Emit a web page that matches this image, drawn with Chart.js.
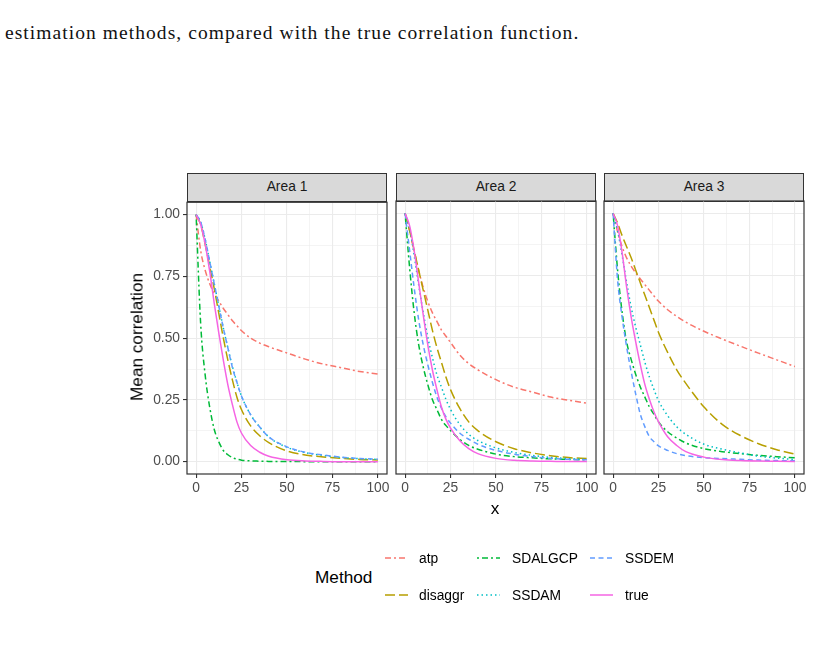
<!DOCTYPE html>
<html>
<head>
<meta charset="utf-8">
<script src="https://cdn.jsdelivr.net/npm/chart.js@4.4.1/dist/chart.umd.min.js"></script>
<style>
  body { margin:0; width:813px; height:661px; background:#fff; position:relative; overflow:hidden;
         font-family:"Liberation Sans", Arial, sans-serif; }
  .abs { position:absolute; }
  .caption { font-family:"Liberation Serif", "DejaVu Serif", serif; font-size:19.5px; line-height:22px;
             color:#111; left:5px; top:22px; white-space:nowrap; }
  .strip { background:#D9D9D9; border:1.2px solid #333; box-sizing:border-box; text-align:center;
           font-size:13.8px; color:#1A1A1A; line-height:26px; height:29px; top:173px; width:200px; }
  .axtitle { font-size:17.2px; color:#000; white-space:nowrap; transform:translate(-50%,-50%); }
  .ytitle { transform:translate(-50%,-50%) rotate(-90deg); }
  .lab { font-size:13.8px; color:#000; white-space:nowrap; transform:translateY(-50%); }
  .key { transform:translateY(-50%); line-height:0; }
</style>
</head>
<body>
<div class="abs caption" id="caption">estimation methods, compared with the true correlation function.</div>
<div id="root"></div>
<script>
// --- dados ---
const xs = [0, 2.5, 5, 7.5, 10, 12.5, 15, 17.5, 20, 22.5, 25, 30, 35, 40, 50, 60, 70, 80, 90, 100];
const methods = ['atp', 'disaggr', 'SDALGCP', 'SSDAM', 'SSDEM', 'true'];
const areas = ['Area 1', 'Area 2', 'Area 3'];
const xTicks = [0, 25, 50, 75, 100];
const yTicks = [0, 0.25, 0.5, 0.75, 1];

// Area 1
const atp1     = [1, 0.855, 0.775, 0.72, 0.68, 0.65, 0.62, 0.595, 0.57, 0.55, 0.53, 0.50, 0.48, 0.465, 0.44, 0.415, 0.395, 0.38, 0.365, 0.355];
const disaggr1 = [1, 0.96, 0.88, 0.79, 0.70, 0.60, 0.50, 0.41, 0.33, 0.26, 0.21, 0.145, 0.105, 0.077, 0.043, 0.027, 0.019, 0.013, 0.009, 0.007];
const sdalgcp1 = [1, 0.56, 0.35, 0.22, 0.13, 0.08, 0.045, 0.028, 0.016, 0.01, 0.006, 0.003, 0.002, 0.001, 0.001, 0, 0, 0, 0, 0];
const ssdam1   = [1, 0.97, 0.90, 0.81, 0.72, 0.63, 0.54, 0.46, 0.385, 0.32, 0.265, 0.19, 0.14, 0.10, 0.058, 0.037, 0.025, 0.017, 0.012, 0.009];
const ssdem1   = [1, 0.97, 0.90, 0.81, 0.72, 0.63, 0.54, 0.46, 0.38, 0.32, 0.265, 0.19, 0.14, 0.10, 0.06, 0.038, 0.027, 0.018, 0.013, 0.01];
const true1    = [1, 0.96, 0.88, 0.77, 0.64, 0.52, 0.41, 0.31, 0.23, 0.16, 0.115, 0.065, 0.038, 0.022, 0.008, 0.003, 0.001, 0, 0, 0];

// Area 2
const atp2     = [1, 0.93, 0.85, 0.77, 0.70, 0.645, 0.60, 0.565, 0.53, 0.505, 0.48, 0.43, 0.395, 0.37, 0.33, 0.30, 0.28, 0.26, 0.247, 0.235];
const disaggr2 = [1, 0.93, 0.85, 0.77, 0.69, 0.61, 0.53, 0.46, 0.40, 0.34, 0.29, 0.215, 0.16, 0.125, 0.08, 0.052, 0.035, 0.024, 0.016, 0.012];
const sdalgcp2 = [1, 0.78, 0.60, 0.47, 0.38, 0.31, 0.25, 0.21, 0.17, 0.145, 0.125, 0.09, 0.065, 0.05, 0.03, 0.02, 0.015, 0.011, 0.009, 0.007];
const ssdam2   = [1, 0.94, 0.83, 0.71, 0.60, 0.50, 0.42, 0.35, 0.30, 0.25, 0.21, 0.15, 0.11, 0.085, 0.055, 0.037, 0.025, 0.017, 0.012, 0.009];
const ssdem2   = [1, 0.85, 0.70, 0.57, 0.47, 0.39, 0.32, 0.26, 0.215, 0.18, 0.155, 0.115, 0.09, 0.07, 0.045, 0.03, 0.02, 0.013, 0.009, 0.007];
const true2    = [1, 0.95, 0.85, 0.72, 0.59, 0.47, 0.37, 0.29, 0.22, 0.17, 0.135, 0.085, 0.052, 0.032, 0.013, 0.005, 0.002, 0.001, 0, 0];

// Area 3
const atp3     = [1, 0.925, 0.865, 0.82, 0.787, 0.76, 0.736, 0.713, 0.69, 0.667, 0.646, 0.612, 0.585, 0.562, 0.525, 0.494, 0.465, 0.437, 0.41, 0.383];
const disaggr3 = [1, 0.96, 0.91, 0.865, 0.82, 0.77, 0.72, 0.67, 0.62, 0.57, 0.52, 0.44, 0.37, 0.315, 0.22, 0.15, 0.105, 0.072, 0.048, 0.03];
const sdalgcp3 = [1, 0.77, 0.60, 0.48, 0.41, 0.35, 0.30, 0.26, 0.22, 0.19, 0.16, 0.12, 0.095, 0.075, 0.052, 0.04, 0.032, 0.025, 0.02, 0.015];
const ssdam3   = [1, 0.93, 0.83, 0.72, 0.62, 0.54, 0.47, 0.40, 0.34, 0.29, 0.245, 0.185, 0.14, 0.11, 0.07, 0.05, 0.035, 0.022, 0.014, 0.008];
const ssdem3   = [1, 0.73, 0.58, 0.46, 0.36, 0.27, 0.19, 0.14, 0.10, 0.08, 0.063, 0.045, 0.032, 0.024, 0.016, 0.012, 0.009, 0.006, 0.004, 0.003];
const true3    = [1, 0.95, 0.84, 0.70, 0.58, 0.48, 0.39, 0.31, 0.25, 0.20, 0.16, 0.10, 0.065, 0.04, 0.018, 0.008, 0.004, 0.002, 0.001, 0];

const dadosAreas = [
    [atp1, disaggr1, sdalgcp1, ssdam1, ssdem1, true1],
    [atp2, disaggr2, sdalgcp2, ssdam2, ssdem2, true2],
    [atp3, disaggr3, sdalgcp3, ssdam3, ssdem3, true3]
];

// --- estilo (cores ggplot e tipos de linha) ---
const cores = ['#F8766D', '#B79F00', '#00BA38', '#00BFC4', '#619CFF', '#F564E3'];
const tracos = [[6, 3, 2, 3], [10, 4], [2, 3, 6, 3], [1.5, 3], [5, 3.5], []];
const fonte = '"Liberation Sans", Arial, sans-serif';

// --- geometria dos paineis ---
const painelEsq = [187, 396, 604];
const painelW = 200, painelH = 273, painelTopo = 201;
const eixoW = 60, eixoXH = 42, padT = 10, padR = 16;

// minor ticks = meio entre os major
function comMinor(t) {
    const out = [];
    t.forEach((v, i) => { out.push(v); if (i < t.length - 1) out.push((v + t[i + 1]) / 2); });
    return out;
}
const xTodos = comMinor(xTicks);
const yTodos = comMinor(yTicks);

const moldura = {
    id: 'moldura',
    afterDatasetsDraw(chart) {
        const { ctx, chartArea: a } = chart;
        ctx.save();
        ctx.strokeStyle = '#333333';
        ctx.lineWidth = 1.2;
        ctx.strokeRect(a.left, a.top, a.right - a.left, a.bottom - a.top);
        ctx.restore();
    }
};

function criarPainel(k) {
    const root = document.getElementById('root');

    const strip = document.createElement('div');
    strip.className = 'abs strip';
    strip.style.left = painelEsq[k] + 'px';
    strip.textContent = areas[k];
    root.appendChild(strip);

    const canvas = document.createElement('canvas');
    canvas.width = eixoW + painelW + padR;
    canvas.height = padT + painelH + eixoXH;
    canvas.className = 'abs';
    canvas.style.left = (painelEsq[k] - eixoW) + 'px';
    canvas.style.top = (painelTopo - padT) + 'px';
    root.appendChild(canvas);

    const primeiro = k === 0;

    new Chart(canvas, {
        type: 'line',
        data: {
            datasets: methods.map((m, i) => ({
                label: m,
                data: xs.map((x, j) => ({ x: x, y: dadosAreas[k][i][j] })),
                borderColor: cores[i],
                borderDash: tracos[i],
                borderWidth: 1.5,
                pointRadius: 0,
                fill: false,
                cubicInterpolationMode: 'monotone',
                order: methods.length - 1 - i
            }))
        },
        options: {
            responsive: false,
            animation: false,
            devicePixelRatio: 1,
            layout: { padding: { top: padT, right: padR, left: 0, bottom: 0 } },
            plugins: { legend: { display: false }, tooltip: { enabled: false } },
            scales: {
                x: {
                    type: 'linear', min: -5, max: 105,
                    afterBuildTicks: s => { s.ticks = xTodos.map(v => ({ value: v })); },
                    afterFit: s => { s.height = eixoXH; },
                    border: { display: false },
                    grid: {
                        color: '#EBEBEB',
                        lineWidth: c => xTicks.includes(c.tick.value) ? 1.1 : 0.55,
                        tickLength: 4,
                        tickWidth: 1.1,
                        tickColor: c => xTicks.includes(c.tick.value) ? '#333333' : 'rgba(0,0,0,0)'
                    },
                    ticks: {
                        autoSkip: false, maxRotation: 0, padding: 2, color: '#4D4D4D',
                        font: { family: fonte, size: 13.8 },
                        callback: v => xTicks.includes(v) ? String(v) : ''
                    }
                },
                y: {
                    type: 'linear', min: -0.05, max: 1.05,
                    afterBuildTicks: s => { s.ticks = yTodos.map(v => ({ value: v })); },
                    afterFit: s => { s.width = eixoW; },
                    border: { display: false },
                    grid: {
                        color: '#EBEBEB',
                        lineWidth: c => yTicks.includes(c.tick.value) ? 1.1 : 0.55,
                        drawTicks: primeiro,
                        tickLength: 4,
                        tickWidth: 1.1,
                        tickColor: c => (primeiro && yTicks.includes(c.tick.value)) ? '#333333' : 'rgba(0,0,0,0)'
                    },
                    ticks: {
                        display: primeiro, autoSkip: false, padding: 3, color: '#4D4D4D',
                        font: { family: fonte, size: 13.8 },
                        callback: v => yTicks.includes(v) ? v.toFixed(2) : ''
                    }
                }
            }
        },
        plugins: [moldura]
    });
}

function criarTextos() {
    const root = document.getElementById('root');

    const yt = document.createElement('div');
    yt.className = 'abs axtitle ytitle';
    yt.style.left = '137px'; yt.style.top = '337px';
    yt.textContent = 'Mean correlation';
    root.appendChild(yt);

    const xt = document.createElement('div');
    xt.className = 'abs axtitle';
    xt.style.left = '495px'; xt.style.top = '508px';
    xt.textContent = 'x';
    root.appendChild(xt);

    // legenda (preenchida por colunas, como no ggplot)
    const titulo = document.createElement('div');
    titulo.className = 'abs lab';
    titulo.style.fontSize = '17.2px';
    titulo.style.left = '315px'; titulo.style.top = '577px';
    titulo.textContent = 'Method';
    root.appendChild(titulo);

    const keyX = [385, 477, 590];
    const labX = [419, 512, 625];
    const linhaY = [558, 595];
    methods.forEach((m, i) => {
        const col = Math.floor(i / 2), lin = i % 2;
        const key = document.createElement('div');
        key.className = 'abs key';
        key.style.left = keyX[col] + 'px';
        key.style.top = linhaY[lin] + 'px';
        key.innerHTML = `<svg width="23" height="6"><line x1="0" y1="3" x2="23" y2="3" stroke="${cores[i]}" stroke-width="1.5" stroke-dasharray="${tracos[i].join(' ') || 'none'}"/></svg>`;
        root.appendChild(key);

        const lab = document.createElement('div');
        lab.className = 'abs lab';
        lab.style.left = labX[col] + 'px';
        lab.style.top = linhaY[lin] + 'px';
        lab.textContent = m;
        root.appendChild(lab);
    });

    // ajusta o espaçamento da legenda da figura para a largura original
    const cap = document.getElementById('caption');
    const alvo = 574;
    const n = cap.textContent.length;
    cap.style.letterSpacing = ((alvo - cap.offsetWidth) / n) + 'px';
}

[0, 1, 2].forEach(criarPainel);
criarTextos();
</script>
</body>
</html>
